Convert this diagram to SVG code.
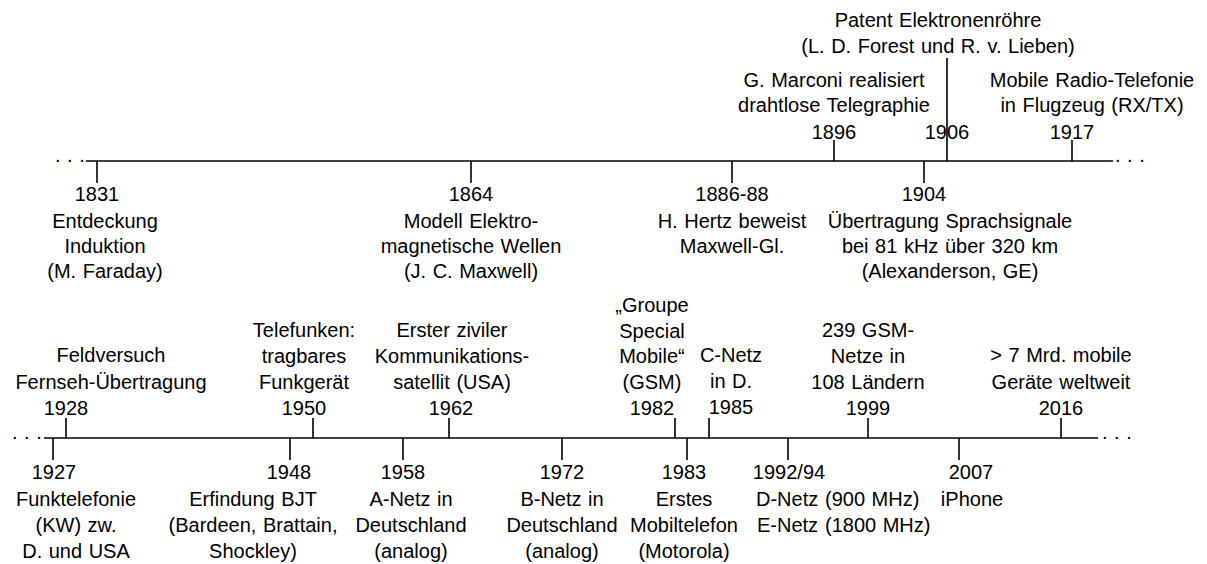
<svg xmlns="http://www.w3.org/2000/svg" width="1207" height="564" viewBox="0 0 1207 564">
<style>
text { font-family: "Liberation Sans", Arial, sans-serif; font-size: 20px; fill: #000; text-anchor: middle; word-spacing: 1px; }
text.s { text-anchor: start; }
.ax { stroke: #000; stroke-width: 1.6; fill: none; }
</style>
<rect width="1207" height="564" fill="#fff"/>
<g id="connectors" class="ax">
  <line x1="86" y1="161" x2="1113" y2="161"/>
  <line x1="97" y1="161" x2="97" y2="183"/>
  <line x1="471" y1="161" x2="471" y2="183"/>
  <line x1="732" y1="161" x2="732" y2="183"/>
  <line x1="924" y1="161" x2="924" y2="183"/>
  <line x1="834" y1="161" x2="834" y2="140"/>
  <line x1="947" y1="161" x2="947" y2="58"/>
  <line x1="1072" y1="161" x2="1072" y2="140"/>
  <line x1="44" y1="438" x2="1098" y2="438"/>
  <line x1="53" y1="438" x2="53" y2="460"/>
  <line x1="290" y1="438" x2="290" y2="460"/>
  <line x1="403" y1="438" x2="403" y2="460"/>
  <line x1="562" y1="438" x2="562" y2="460"/>
  <line x1="687" y1="438" x2="687" y2="460"/>
  <line x1="788" y1="438" x2="788" y2="460"/>
  <line x1="959" y1="438" x2="959" y2="460"/>
  <line x1="66" y1="438" x2="66" y2="418"/>
  <line x1="313" y1="438" x2="313" y2="418"/>
  <line x1="449" y1="438" x2="449" y2="418"/>
  <line x1="675" y1="438" x2="675" y2="418"/>
  <line x1="709" y1="438" x2="709" y2="418"/>
  <line x1="868" y1="438" x2="868" y2="418"/>
  <line x1="1061" y1="438" x2="1061" y2="418"/>
</g>
<g id="dots">
  <text class="s" x="55" y="162">. . .</text>
  <text class="s" x="1115" y="162">. . .</text>
  <text class="s" x="12" y="439">. . .</text>
  <text class="s" x="1102" y="439">. . .</text>
</g>
<g id="e1831">
  <text x="97" y="201">1831</text>
  <text x="105" y="228">Entdeckung</text>
  <text x="105" y="253">Induktion</text>
  <text x="105" y="278">(M. Faraday)</text>
</g>
<g id="e1864">
  <text x="471" y="201">1864</text>
  <text x="471" y="228">Modell Elektro-</text>
  <text x="471" y="253">magnetische Wellen</text>
  <text x="471" y="278">(J. C. Maxwell)</text>
</g>
<g id="e1886">
  <text x="732" y="201">1886-88</text>
  <text x="732" y="228">H. Hertz beweist</text>
  <text x="732" y="253">Maxwell-Gl.</text>
</g>
<g id="e1904">
  <text x="924" y="201">1904</text>
  <text x="950" y="228">Übertragung Sprachsignale</text>
  <text x="950" y="253">bei 81 kHz über 320 km</text>
  <text x="950" y="278">(Alexanderson, GE)</text>
</g>
<g id="e1896">
  <text x="834" y="87">G. Marconi realisiert</text>
  <text x="834" y="112">drahtlose Telegraphie</text>
  <text x="834" y="139">1896</text>
</g>
<g id="e1906">
  <text x="938" y="27">Patent Elektronenröhre</text>
  <text x="938" y="53">(L. D. Forest und R. v. Lieben)</text>
  <text x="947" y="139">1906</text>
</g>
<g id="e1917">
  <text x="1092" y="87">Mobile Radio-Telefonie</text>
  <text x="1092" y="112">in Flugzeug (RX/TX)</text>
  <text x="1072" y="139">1917</text>
</g>
<g id="e1927">
  <text x="54" y="479">1927</text>
  <text x="76" y="506">Funktelefonie</text>
  <text x="76" y="532">(KW) zw.</text>
  <text x="76" y="558">D. und USA</text>
</g>
<g id="e1928">
  <text x="111" y="362">Feldversuch</text>
  <text x="111" y="389">Fernseh-Übertragung</text>
  <text x="66" y="415">1928</text>
</g>
<g id="e1948">
  <text x="289" y="479">1948</text>
  <text x="253" y="506">Erfindung BJT</text>
  <text x="253" y="532">(Bardeen, Brattain,</text>
  <text x="253" y="558">Shockley)</text>
</g>
<g id="e1950">
  <text x="304" y="337">Telefunken:</text>
  <text x="304" y="363">tragbares</text>
  <text x="304" y="389">Funkgerät</text>
  <text x="304" y="415">1950</text>
</g>
<g id="e1958">
  <text x="403" y="479">1958</text>
  <text x="411" y="506">A-Netz in</text>
  <text x="411" y="532">Deutschland</text>
  <text x="411" y="558">(analog)</text>
</g>
<g id="e1962">
  <text x="452" y="337">Erster ziviler</text>
  <text x="452" y="363">Kommunikations-</text>
  <text x="452" y="389">satellit (USA)</text>
  <text x="451" y="415">1962</text>
</g>
<g id="e1972">
  <text x="562" y="479">1972</text>
  <text x="562" y="506">B-Netz in</text>
  <text x="562" y="532">Deutschland</text>
  <text x="562" y="558">(analog)</text>
</g>
<g id="e1982">
  <text x="652" y="312">„Groupe</text>
  <text x="652" y="338">Special</text>
  <text x="652" y="363">Mobile“</text>
  <text x="652" y="389">(GSM)</text>
  <text x="652" y="415">1982</text>
</g>
<g id="e1983">
  <text x="684" y="479">1983</text>
  <text x="684" y="506">Erstes</text>
  <text x="684" y="532">Mobiltelefon</text>
  <text x="684" y="558">(Motorola)</text>
</g>
<g id="e1985">
  <text x="731" y="362">C-Netz</text>
  <text x="731" y="388">in D.</text>
  <text x="731" y="414">1985</text>
</g>
<g id="e1992">
  <text x="789" y="479">1992/94</text>
  <text class="s" x="756" y="506">D-Netz</text>
  <text class="s" x="825" y="506">(900 MHz)</text>
  <text class="s" x="757" y="532">E-Netz</text>
  <text class="s" x="825" y="532">(1800 MHz)</text>
</g>
<g id="e1999">
  <text x="868" y="337">239 GSM-</text>
  <text x="868" y="363">Netze in</text>
  <text x="868" y="389">108 Ländern</text>
  <text x="868" y="415">1999</text>
</g>
<g id="e2007">
  <text x="971" y="479">2007</text>
  <text x="972" y="506">iPhone</text>
</g>
<g id="e2016">
  <text x="1061" y="362">&gt; 7 Mrd. mobile</text>
  <text x="1061" y="389">Geräte weltweit</text>
  <text x="1061" y="415">2016</text>
</g>
</svg>
